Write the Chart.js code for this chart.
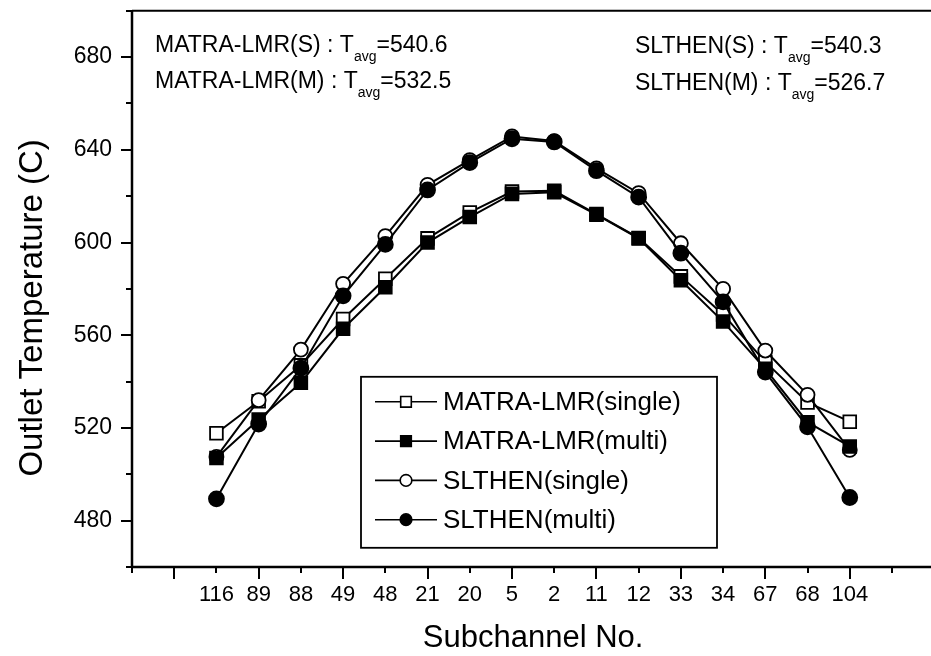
<!DOCTYPE html>
<html><head><meta charset="utf-8">
<script src="https://cdn.jsdelivr.net/npm/chart.js@4.4.0/dist/chart.umd.min.js"></script>
<style>html,body{margin:0;padding:0;overflow:hidden;background:#fff}canvas{display:block}</style>
</head><body>
<canvas id="c" width="945" height="656"></canvas>
<script>
const categories = ['116','89','88','49','48','21','20','5','2','11','12','33','34','67','68','104'];
const matraSingle = [517.7,531.5,547,567,584.4,601.8,613,622,622.3,612.3,602,585.4,569,548.5,531,522.7];
const matraMulti = [507,523.6,539.5,562.8,580.7,600,611,621,621.7,612,601.8,583.7,565.9,545.5,522.5,512];
const slthenSingle = [507.5,532,553.8,582.2,602.8,624.9,635.6,645.8,643.8,632,621.3,599.7,580,553.4,534.3,510.5];
const slthenMulti = [489.4,521.7,545.8,577,599.2,622.7,634.5,644.8,643.4,631,619.6,595.4,574.4,544.1,520.5,490];
const seriesNames = ['MATRA-LMR(single)','MATRA-LMR(multi)','SLTHEN(single)','SLTHEN(multi)'];
const yTickLabels = [480,520,560,600,640,680];
const avgNames = ['MATRA-LMR(S)','MATRA-LMR(M)','SLTHEN(S)','SLTHEN(M)'];
const avgValues = ['540.6','532.5','540.3','526.7'];
const yTitle = 'Outlet Temperature (C)';
const xTitle = 'Subchannel No.';

const FONT = "'Liberation Sans', Arial, sans-serif";
Chart.defaults.font.family = FONT;
Chart.defaults.color = '#000';

function toPts(arr){ return arr.map((v,i)=>({x:i+1,y:v})); }

const styles = [
  {pointStyle:'rect', fill:'#fff', r:9, order:4},
  {pointStyle:'rect', fill:'#000', r:9, order:2},
  {pointStyle:'circle', fill:'#fff', r:7, order:3},
  {pointStyle:'circle', fill:'#000', r:7.5, order:1}
];
const seriesData = [matraSingle, matraMulti, slthenSingle, slthenMulti];

const datasets = seriesData.map((d,i)=>({
  label: seriesNames[i],
  data: toPts(d),
  borderColor:'#000',
  borderWidth:2,
  pointStyle: styles[i].pointStyle,
  pointRadius: styles[i].r,
  pointBorderWidth:1.8,
  pointBorderColor:'#000',
  pointBackgroundColor: styles[i].fill,
  tension:0,
  order: styles[i].order,
  clip: false
}));

const framePlugin = {
  id:'frame',
  beforeDatasetsDraw(chart){
    const ctx = chart.ctx, a = chart.chartArea;
    const xs = chart.scales.x, ys = chart.scales.y;
    ctx.save();
    ctx.strokeStyle = '#000';
    ctx.lineWidth = 2.5;
    ctx.beginPath();
    ctx.moveTo(a.left, a.top); ctx.lineTo(a.left, a.bottom);
    ctx.moveTo(a.left-1, a.bottom); ctx.lineTo(a.right, a.bottom);
    ctx.stroke();
    ctx.lineWidth = 2;
    ctx.beginPath();
    ctx.moveTo(a.left, a.top); ctx.lineTo(a.right, a.top);
    ctx.stroke();
    ctx.lineWidth = 2;
    ctx.beginPath();
    for (let v = ys.min; v <= ys.max; v += 20) {
      const y = Math.round(ys.getPixelForValue(v));
      const len = yTickLabels.includes(v) ? 11 : 6;
      ctx.moveTo(a.left - len, y); ctx.lineTo(a.left, y);
    }
    for (let v = xs.min; v <= xs.max; v += 1) {
      const x = Math.round(xs.getPixelForValue(v));
      const len = (v % 2 === 0) ? 12 : 6;
      ctx.moveTo(x, a.bottom); ctx.lineTo(x, a.bottom + len);
    }
    ctx.stroke();
    ctx.restore();
  },
  afterDraw(chart){
    const ctx = chart.ctx, a = chart.chartArea;
    ctx.save();
    ctx.fillStyle = '#000';
    ctx.strokeStyle = '#000';
    // y axis title
    ctx.save();
    ctx.translate(33, (a.top + a.bottom) / 2 + 19);
    ctx.rotate(-Math.PI/2);
    ctx.font = '33px ' + FONT;
    ctx.textAlign = 'center';
    ctx.textBaseline = 'middle';
    ctx.fillText(yTitle, 0, 0);
    ctx.restore();
    // annotations
    const pos = [[a.left+23, a.top+41],[a.left+23, a.top+77],[a.left+503, a.top+42],[a.left+503, a.top+79]];
    avgNames.forEach((n,i)=>{
      let [x,y] = pos[i];
      ctx.textBaseline = 'alphabetic';
      ctx.textAlign = 'left';
      ctx.font = '23px ' + FONT;
      const t1 = n + ' : T';
      ctx.fillText(t1, x, y);
      x += ctx.measureText(t1).width;
      ctx.font = '14px ' + FONT;
      ctx.fillText('avg', x, y + 9);
      x += ctx.measureText('avg').width;
      ctx.font = '23px ' + FONT;
      ctx.fillText('=' + avgValues[i], x, y);
    });
    // legend
    const bx = a.left + 229, by = a.top + 366, bw = 356, bh = 171;
    ctx.lineWidth = 1.8;
    ctx.strokeRect(bx, by, bw, bh);
    chart.data.datasets.forEach((ds,i)=>{
      const y = by + 25 + i*39.3;
      ctx.lineWidth = 1.6;
      ctx.beginPath(); ctx.moveTo(bx+14, y); ctx.lineTo(bx+76, y); ctx.stroke();
      ctx.fillStyle = ds.pointBackgroundColor;
      ctx.strokeStyle = '#000';
      Chart.helpers.drawPoint(ctx, {pointStyle: ds.pointStyle, radius: ds.pointStyle==='rect'?7.5:5.8, borderWidth:1.6, rotation:0}, bx+45, y);
      ctx.fillStyle = '#000';
      ctx.font = '26px ' + FONT;
      ctx.textBaseline = 'middle';
      ctx.textAlign = 'left';
      ctx.fillText(ds.label, bx+82, y+1);
    });
    ctx.restore();
  }
};

new Chart(document.getElementById('c'), {
  type:'line',
  data:{datasets},
  options:{
    responsive:false,
    animation:false,
    events:[],
    layout:{padding:{top:6,right:6,left:0,bottom:0}},
    plugins:{legend:{display:false}, tooltip:{enabled:false}},
    scales:{
      x:{
        type:'linear', min:-1, max:18,
        grid:{display:false, drawTicks:false},
        border:{display:false},
        ticks:{stepSize:1, autoSkip:false, maxRotation:0, padding:15, font:{size:22},
          callback:(v)=> (Number.isInteger(v) && v>=1 && v<=categories.length) ? categories[v-1] : ''},
        title:{display:true, text:xTitle, font:{size:31}, padding:{top:0,bottom:-1}},
        afterFit:(s)=>{ s.height = 89; s.paddingLeft = 0; s.paddingRight = 0; }
      },
      y:{
        min:460, max:700,
        grid:{display:false, drawTicks:false},
        border:{display:false},
        ticks:{stepSize:20, padding:20, font:{size:23},
          callback:(v)=> yTickLabels.includes(v) ? String(v) : ''},
        afterFit:(s)=>{ s.width = 132; s.paddingTop = 0; s.paddingBottom = 0; }
      }
    }
  },
  plugins:[framePlugin]
});
</script>
</body></html>
